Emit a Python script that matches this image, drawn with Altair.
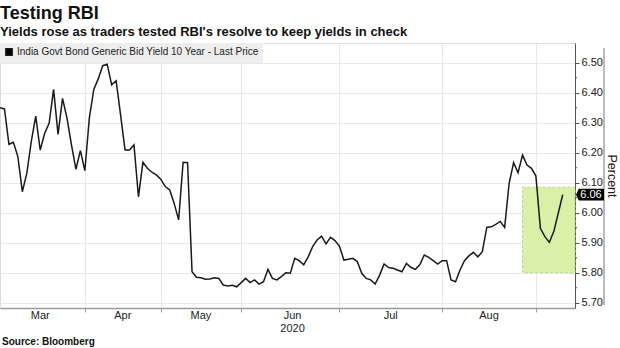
import altair as alt
import pandas as pd

# ---- data ----
yields = [6.350, 6.346, 6.228, 6.235, 6.187, 6.070, 6.131, 6.237, 6.322, 6.209,
          6.265, 6.298, 6.411, 6.261, 6.381, 6.315, 6.226, 6.145, 6.207, 6.140,
          6.315, 6.411, 6.446, 6.490, 6.495, 6.426, 6.440, 6.326, 6.209, 6.209,
          6.226, 6.053, 6.168, 6.148, 6.135, 6.126, 6.112, 6.087, 6.076, 6.031,
          5.976, 6.168, 6.167, 5.803, 5.785, 5.783, 5.778, 5.779, 5.783, 5.781,
          5.759, 5.756, 5.758, 5.753, 5.767, 5.781, 5.767, 5.776, 5.762, 5.770,
          5.811, 5.781, 5.776, 5.787, 5.800, 5.798, 5.848, 5.840, 5.826, 5.853,
          5.887, 5.909, 5.922, 5.896, 5.918, 5.907, 5.889, 5.842, 5.845, 5.848,
          5.837, 5.798, 5.781, 5.776, 5.762, 5.792, 5.829, 5.817, 5.815, 5.809,
          5.803, 5.831, 5.818, 5.811, 5.826, 5.859, 5.851, 5.840, 5.829, 5.840,
          5.840, 5.776, 5.770, 5.809, 5.840, 5.856, 5.868, 5.853, 5.870, 5.951,
          5.953, 5.961, 5.971, 5.951, 6.098, 6.167, 6.133, 6.192, 6.159, 6.148,
          6.122, 5.948, 5.920, 5.901, 5.937, 5.998, 6.060]
trading_day = list(range(len(yields)))
series_name = "India Govt Bond Generic Bid Yield 10 Year - Last Price"

month_names = ["Mar", "Apr", "May", "Jun", "Jul", "Aug"]
month_mid_day = [9, 27.5, 45, 65.5, 87.5, 109.5]
month_start_day = [19, 36, 54, 76, 99, 120]
year_label = ["2020"]
year_day = [65.5]

y_major = [5.70, 5.80, 5.90, 6.00, 6.10, 6.20, 6.30, 6.40, 6.50]
y_minor = [5.75, 5.85, 5.95, 6.05, 6.15, 6.25, 6.35, 6.45]
x_domain = [0, 128.75]
y_domain = [5.6823, 6.5657]

box_day = [117]
box_day_end = [128.75]
box_low = [5.80]
box_high = [6.085]

last_value = [yields[-1]]

W, H = 575, 265
FONT = "Liberation Sans"

df = pd.DataFrame({"day": trading_day, "yld": yields, "series": series_name})
months = pd.DataFrame({"m": month_names, "d": month_mid_day})
years = pd.DataFrame({"m": year_label, "d": year_day})
box = pd.DataFrame({"x": box_day, "x2": box_day_end, "y": box_low, "y2": box_high})
last = pd.DataFrame({"v": last_value, "t": [f"{v:.2f}" for v in last_value]})
minor = pd.DataFrame({"v": y_minor})

xscale = alt.Scale(domain=x_domain, nice=False, zero=False)
yscale = alt.Scale(domain=y_domain, nice=False, zero=False)

x_axis = alt.Axis(values=month_start_day, tickCount=30, labels=False, title=None,
                  grid=True, gridColor="#e8e8e8", domainColor="#9a9a9a",
                  tickColor="#9a9a9a", tickSize=4, domainWidth=1.5)
y_axis = alt.Axis(orient="right", values=y_major, tickCount=30, title="Percent",
                  format=".2f", labelOverlap=False, labelFlush=False, tickSize=4,
                  gridColor="#e8e8e8", domainColor="#555555", tickColor="#555555",
                  labelFont=FONT, labelFontSize=11, labelColor="#222222", labelPadding=2,
                  titleFont=FONT, titleFontSize=12.5, titleFontWeight="normal",
                  titleColor="#222222", titleAngle=90, titlePadding=2)

highlight = alt.Chart(box).mark_rect(
    fill="#d8f0a8", stroke="#b7de7c", strokeDash=[3, 2], strokeWidth=1
).encode(
    x=alt.X("x:Q", scale=xscale, axis=x_axis),
    x2="x2:Q",
    y=alt.Y("y:Q", scale=yscale, axis=y_axis),
    y2="y2:Q",
)

line = alt.Chart(df).mark_line(strokeWidth=1.5).encode(
    x=alt.X("day:Q", scale=xscale, axis=x_axis),
    y=alt.Y("yld:Q", scale=yscale, axis=y_axis),
    color=alt.Color("series:N", scale=alt.Scale(range=["#1a1a1a"]),
                    legend=alt.Legend(orient="top-left", title=None, offset=0,
                                      padding=4, fillColor="#eeeeee",
                                      symbolType="square", symbolSize=40,
                                      symbolFillColor="#000000",
                                      symbolStrokeColor="#000000",
                                      labelFont=FONT, labelFontSize=10,
                                      labelLimit=400,
                                      labelColor="#222222", labelOffset=3)),
)

minor_ticks = alt.Chart(minor).mark_rule(color="#555555", strokeWidth=1).encode(
    x=alt.value(W), x2=alt.value(W + 2), y=alt.Y("v:Q", scale=yscale)
)

month_text = alt.Chart(months).mark_text(
    font=FONT, fontSize=11, color="#222222", baseline="middle"
).encode(x=alt.X("d:Q", scale=xscale), y=alt.value(H + 8), text="m:N")

year_text = alt.Chart(years).mark_text(
    font=FONT, fontSize=11, color="#222222", baseline="middle"
).encode(x=alt.X("d:Q", scale=xscale), y=alt.value(H + 21), text="m:N")

source_text = alt.Chart(pd.DataFrame({"t": ["Source: Bloomberg"]})).mark_text(
    font=FONT, fontSize=10, fontWeight="bold", color="#111111",
    align="left", baseline="middle"
).encode(x=alt.value(2), y=alt.value(H + 34), text="t:N")

frame_rule = alt.Chart(pd.DataFrame({"a": [0]})).mark_rule(
    color="#777777", strokeWidth=1
).encode(x=alt.value(W + 29), y=alt.value(5), y2=alt.value(H - 3))

last_box = alt.Chart(last).mark_point(
    shape="M -1 0 L -0.8 -0.42 L 1 -0.42 L 1 0.42 L -0.8 0.42 Z",
    size=784, filled=True, color="#000000", opacity=1
).encode(x=alt.value(W + 15), y=alt.Y("v:Q", scale=yscale))

last_text = alt.Chart(last).mark_text(
    font=FONT, fontSize=11, color="#ffffff", baseline="middle", align="center"
).encode(x=alt.value(W + 16), y=alt.Y("v:Q", scale=yscale), text="t:N")

chart = alt.layer(
    highlight, line, minor_ticks, month_text, year_text, source_text,
    frame_rule, last_box, last_text
).properties(
    width=W, height=H,
    title=alt.TitleParams(
        text="Testing RBI",
        subtitle="Yields rose as traders tested RBI's resolve to keep yields in check",
        anchor="start", frame="group", offset=4,
        font=FONT, fontSize=18, fontWeight="bold", color="#111111",
        subtitleFont=FONT, subtitleFontSize=13, subtitleFontWeight="bold",
        subtitleColor="#111111", subtitlePadding=3,
    ),
    autosize=alt.AutoSizeParams(type="none"),
    padding={"left": 0, "top": 43, "right": 45, "bottom": 40},
).configure_view(stroke=None).configure(background="#ffffff")

chart.save("out.html", embed_options={"renderer": "svg", "actions": False})
